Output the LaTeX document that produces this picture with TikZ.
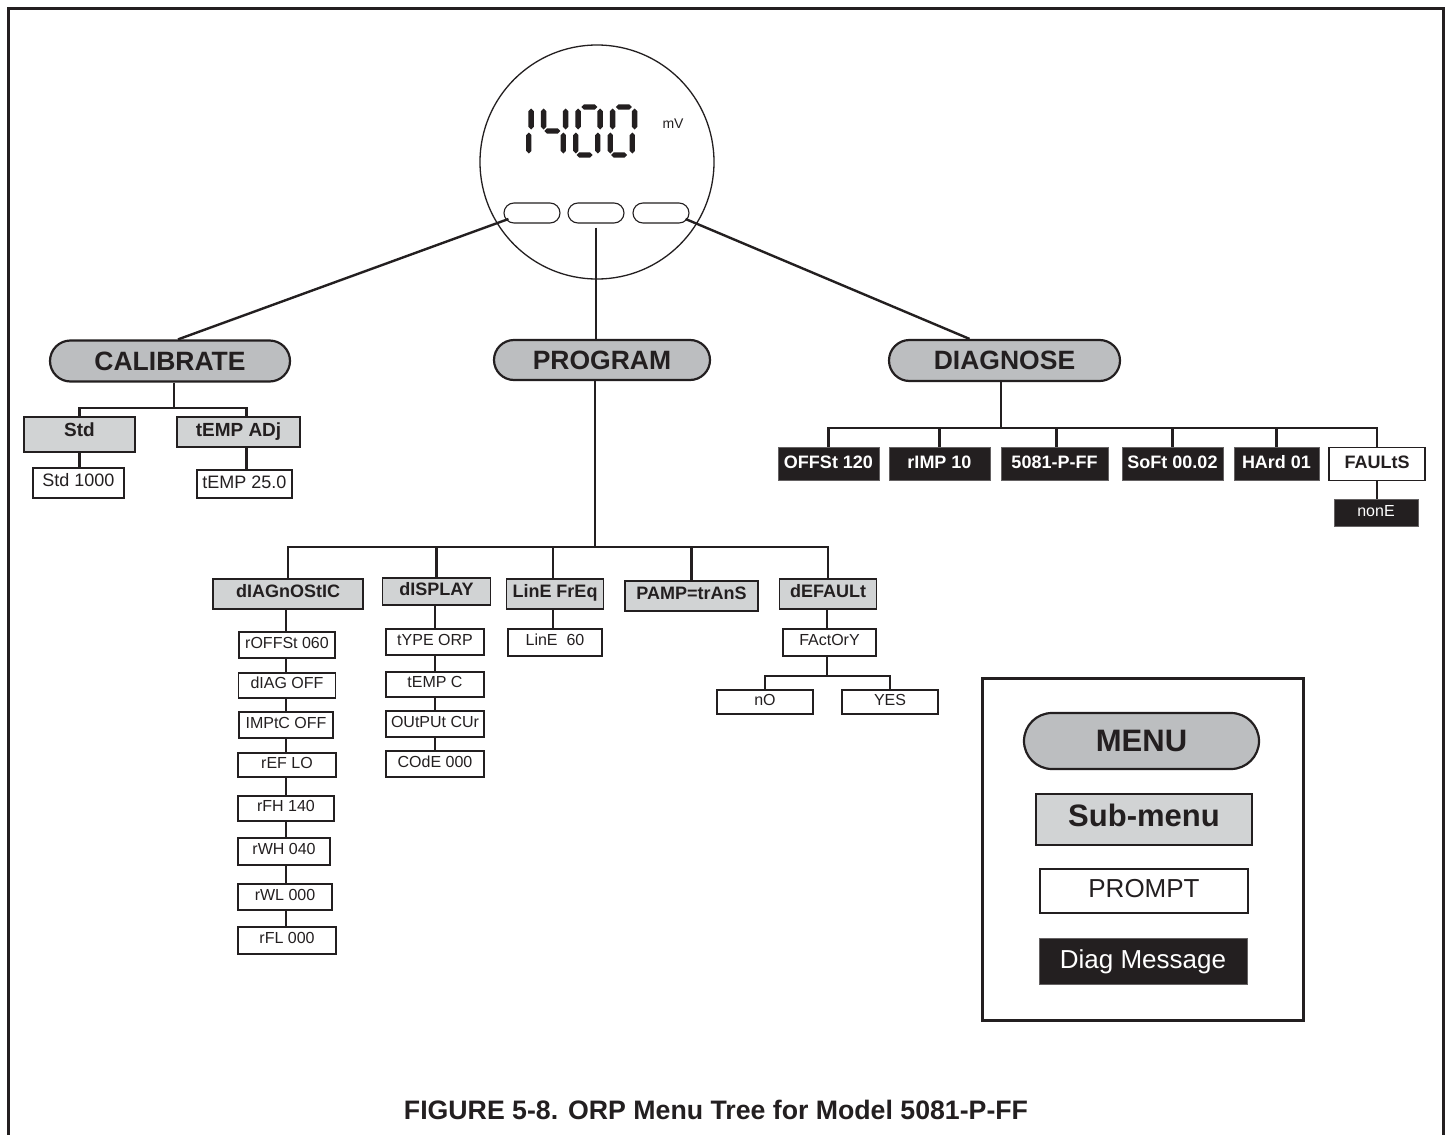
\documentclass[tikz,border=0pt]{standalone}
\usepackage{fontspec}
\setmainfont{Liberation Sans}
\usetikzlibrary{shapes.misc,calc}
\definecolor{menugray}{HTML}{BCBEC0}
\definecolor{subgray}{HTML}{D1D3D4}
\definecolor{ink}{HTML}{231F20}
\newcommand\myfs[1]{\fontsize{#1}{#1}\selectfont}
\begin{document}
\begin{tikzpicture}[x=1pt,y=-1pt,
 menu/.style={rounded rectangle, draw=ink, line width=2.2pt, fill=menugray, text=ink, font=\bfseries\myfs{26.5}, minimum height=41pt, inner sep=0pt},
 sub/.style={rectangle, draw=ink, line width=1.8pt, fill=subgray, text=ink, font=\bfseries\myfs{18}, minimum height=30pt, inner sep=0pt, text height=13pt, text depth=6pt},
 prompt/.style={rectangle, draw=ink, line width=1.4pt, fill=white, text=ink, font=\myfs{16}, minimum height=26pt, inner sep=0pt, text height=11.5pt, text depth=5pt},
 msg/.style={rectangle, draw=ink!70, line width=0.8pt, fill=ink, text=white, font=\bfseries\myfs{18}, minimum height=33pt, inner sep=0pt, text height=13pt, text depth=4pt},
 btn/.style={rounded rectangle, draw=ink, line width=1.1pt, fill=white, minimum width=56pt, minimum height=20pt, inner sep=0pt},
 conn/.style={draw=ink, line width=2.4pt},
 hseg/.pic={\fill[ink] (0,0) -- (2.7,-2.7) -- (13.3,-2.7) -- (16,0) -- (13.3,2.7) -- (2.7,2.7) -- cycle;},
 vseg/.pic={\fill[ink] (0,0) -- (2.7,2.7) -- (2.7,18.3) -- (0,21) -- (-2.7,18.3) -- (-2.7,2.7) -- cycle;}
]
\useasboundingbox (0,0) rectangle (1452,1135);
\fill[white] (0,0) rectangle (1452,1135);
% outer frame
\draw[line width=3pt, draw=ink] (8,1135) -- (8,8) -- (1443,8) -- (1443,1135);

% display dial
\node[circle, draw=ink, line width=1.3pt, minimum size=234pt, inner sep=0pt] (dial) at (597,162) {};
\node[btn] (b1) at (532,213) {};
\node[btn] (b2) at (596,213) {};
\node[btn] (b3) at (661,213) {};
% seven segment digits 1400
\begin{scope}[shift={(504.5,155)}, xslant=0.1]
 \pic at (22,-46.5) {vseg}; \pic at (22,-22.5) {vseg};
\end{scope}
\begin{scope}[shift={(539,155)}, xslant=0.1]
 \pic at (0,-46.5) {vseg}; \pic at (3,-24) {hseg};
 \pic at (22,-46.5) {vseg}; \pic at (22,-22.5) {vseg};
\end{scope}
\begin{scope}[shift={(573.5,155)}, xslant=0.1]
 \pic at (3,-48) {hseg}; \pic at (3,0) {hseg};
 \pic at (0,-46.5) {vseg}; \pic at (0,-22.5) {vseg};
 \pic at (22,-46.5) {vseg}; \pic at (22,-22.5) {vseg};
\end{scope}
\begin{scope}[shift={(608,155)}, xslant=0.1]
 \pic at (3,-48) {hseg}; \pic at (3,0) {hseg};
 \pic at (0,-46.5) {vseg}; \pic at (0,-22.5) {vseg};
 \pic at (22,-46.5) {vseg}; \pic at (22,-22.5) {vseg};
\end{scope}
\node[font=\myfs{14}, text=ink, inner sep=0pt] (mv) at (673,124) {mV};

% main menus
\node[menu, minimum width=240pt] (cal) at (170,361) {CALIBRATE};
\node[menu, minimum width=216pt, minimum height=40pt] (prog) at (602,360) {PROGRAM};
\node[menu, minimum width=231pt] (diag) at (1004.5,360.5) {DIAGNOSE};

\draw[conn] ($(b1.west)+(5,6)$) -- ([xshift=8pt]cal.north);
\draw[conn] ([yshift=-4pt]b2.south) -- (b2.south |- prog.north);
\draw[conn] ($(b3.east)+(-4,6)$) -- ([xshift=-35pt]diag.north);

% calibrate subtree
\node[sub, minimum width=111pt, minimum height=35pt, font=\bfseries\myfs{19}, text height=14pt, text depth=11pt] (std) at (79.5,434.5) {Std};
\node[sub, minimum width=123pt, minimum height=30pt, font=\bfseries\myfs{19}, text height=14pt, text depth=5pt] (tadj) at (238.5,432) {tEMP ADj};
\node[prompt, minimum width=91pt, minimum height=30pt, font=\myfs{18}, text height=13pt, text depth=6pt] (s1000) at (78.5,483) {Std 1000};
\node[prompt, minimum width=95pt, minimum height=28pt, font=\myfs{18}, text height=13pt, text depth=5pt] (t25) at (244.5,484) {tEMP 25.0};
\coordinate (calbar) at (174,408);
\draw[conn] (cal.south -| calbar) -- (calbar);
\draw[conn] (std.north) |- (calbar) -| ([xshift=8pt]tadj.north);
\draw[conn] (std.south) -- (std.south |- s1000.north);
\draw[conn] ([xshift=8pt]tadj.south) -- ([xshift=8pt]tadj.south |- t25.north);

% program subtree
\node[sub, minimum width=150pt] (pdiag) at (288,594) {dIAGnOStIC};
\node[sub, minimum width=108pt, minimum height=27pt] (pdisp) at (436.5,591.5) {dISPLAY};
\node[sub, minimum width=97pt] (plin) at (555,594) {LinE FrEq};
\node[sub, minimum width=133pt] (pamp) at (691.5,596) {PAMP=trAnS};
\node[sub, minimum width=97pt] (pdef) at (828,594) {dEFAULt};
\coordinate (pbar) at (595,547);
\draw[conn] (prog.south -| pbar) -- (pbar);
\draw[conn] (pdiag.north) |- (pbar) -| (pdef.north);
\draw[conn] (pdisp.north) -- (pdisp.north |- pbar);
\draw[conn] ([xshift=-2pt]plin.north) -- ([xshift=-2pt]plin.north |- pbar);
\draw[conn] (pamp.north) -- (pamp.north |- pbar);

% dIAGnOStIC prompts
\node[prompt, minimum width=96pt] (r1) at (287,645) {rOFFSt 060};
\node[prompt, minimum width=97pt, minimum height=25pt] (r2) at (287,685.5) {dIAG OFF};
\node[prompt, minimum width=94pt] (r3) at (286,725) {IMPtC OFF};
\node[prompt, minimum width=98pt, minimum height=24pt] (r4) at (287,765) {rEF LO};
\node[prompt, minimum width=96pt, minimum height=25pt] (r5) at (286,808.5) {rFH 140};
\node[prompt, minimum width=92pt, minimum height=27pt] (r6) at (284,851.5) {rWH 040};
\node[prompt, minimum width=94pt] (r7) at (285,897) {rWL 000};
\node[prompt, minimum width=98pt, minimum height=27pt] (r8) at (287,940.5) {rFL 000};
\draw[conn] (pdiag.south -| 286,0) -- (r1.north -| 286,0);
\draw[conn] (r1.south -| 286,0) -- (r2.north -| 286,0);
\draw[conn] (r2.south -| 286,0) -- (r3.north -| 286,0);
\draw[conn] (r3.south -| 286,0) -- (r4.north -| 286,0);
\draw[conn] (r4.south -| 286,0) -- (r5.north -| 286,0);
\draw[conn] (r5.south -| 286,0) -- (r6.north -| 286,0);
\draw[conn] (r6.south -| 286,0) -- (r7.north -| 286,0);
\draw[conn] (r7.south -| 286,0) -- (r8.north -| 286,0);

% dISPLAY prompts
\node[prompt, minimum width=98pt] (q1) at (435,642) {tYPE ORP};
\node[prompt, minimum width=98pt, minimum height=25pt] (q2) at (435,684.5) {tEMP C};
\node[prompt, minimum width=98pt] (q3) at (435,724) {OUtPUt CUr};
\node[prompt, minimum width=98pt] (q4) at (435,764) {COdE 000};
\draw[conn] (pdisp.south -| q1.north) -- (q1.north);
\draw[conn] (q1.south) -- (q2.north);
\draw[conn] (q2.south) -- (q3.north);
\draw[conn] (q3.south) -- (q4.north);

% LinE FrEq prompt
\node[prompt, minimum width=94pt, minimum height=27pt] (l60) at (555,642.5) {LinE\ \ 60};
\draw[conn] ([xshift=-2pt]plin.south) -- ([xshift=-2pt]plin.south |- l60.north);

% dEFAULt prompts
\node[prompt, minimum width=93pt, minimum height=27pt] (fac) at (829.5,642.5) {FActOrY};
\node[prompt, minimum width=96pt, minimum height=24pt] (fno) at (765,702) {nO};
\node[prompt, minimum width=96pt, minimum height=24pt] (fyes) at (890,702) {YES};
\coordinate (fbar) at (827,676);
\draw[conn] (pdef.south -| fbar) -- (fac.north -| fbar);
\draw[conn] (fac.south -| fbar) -- (fbar);
\draw[conn] (fno.north) |- (fbar) -| (fyes.north);

% diagnose subtree
\node[msg, minimum width=101pt] (doff) at (828.5,463.5) {OFFSt 120};
\node[msg, minimum width=101pt] (drimp) at (939.5,463.5) {rIMP 10};
\node[msg, minimum width=107pt] (d5081) at (1054.5,463.5) {5081-P-FF};
\node[msg, minimum width=101pt] (dsoft) at (1172.5,463.5) {SoFt 00.02};
\node[msg, minimum width=85pt] (dhard) at (1276.5,463.5) {HArd 01};
\node[prompt, minimum width=96pt, minimum height=33pt, font=\bfseries\myfs{18}, text height=13pt, text depth=5pt] (dfault) at (1377,464) {FAULtS};
\node[msg, minimum width=84pt, minimum height=27pt, font=\myfs{16}, text height=11.5pt, text depth=3pt] (dnone) at (1376,512.5) {nonE};
\coordinate (dbar) at (1001,428);
\draw[conn] (diag.south -| dbar) -- (dbar);
\draw[conn] (doff.north) |- (dbar) -| (dfault.north);
\draw[conn] (drimp.north) -- (drimp.north |- dbar);
\draw[conn] ([xshift=2pt]d5081.north) -- ([xshift=2pt]d5081.north |- dbar);
\draw[conn] (dsoft.north) -- (dsoft.north |- dbar);
\draw[conn] (dhard.north) -- (dhard.north |- dbar);
\draw[conn] (dfault.south) -- (dfault.south |- dnone.north);

% legend
\node[draw=ink, line width=3pt, minimum width=321pt, minimum height=342pt, inner sep=0pt] (legend) at (1142.5,849) {};
\node[menu, minimum width=235pt, minimum height=56pt, font=\bfseries\myfs{31}] (lmenu) at (1141.5,741) {MENU};
\node[sub, minimum width=216pt, minimum height=51pt, line width=2.4pt, font=\bfseries\myfs{31}, text height=22pt, text depth=8pt] (lsub) at (1144,819.5) {Sub-menu};
\node[prompt, minimum width=208pt, minimum height=44pt, line width=2pt, font=\myfs{26}, text height=19pt, text depth=7pt] (lprompt) at (1144,891) {PROMPT};
\node[msg, minimum width=208pt, minimum height=46pt, font=\myfs{26}, text height=19pt, text depth=5pt] (lmsg) at (1143,961) {Diag Message};

% caption
\node[font=\bfseries\myfs{26.7}, text=ink, inner sep=0pt] (cap) at (716,1110) {FIGURE 5-8. ORP Menu Tree for Model 5081-P-FF};
\end{tikzpicture}
\end{document}
